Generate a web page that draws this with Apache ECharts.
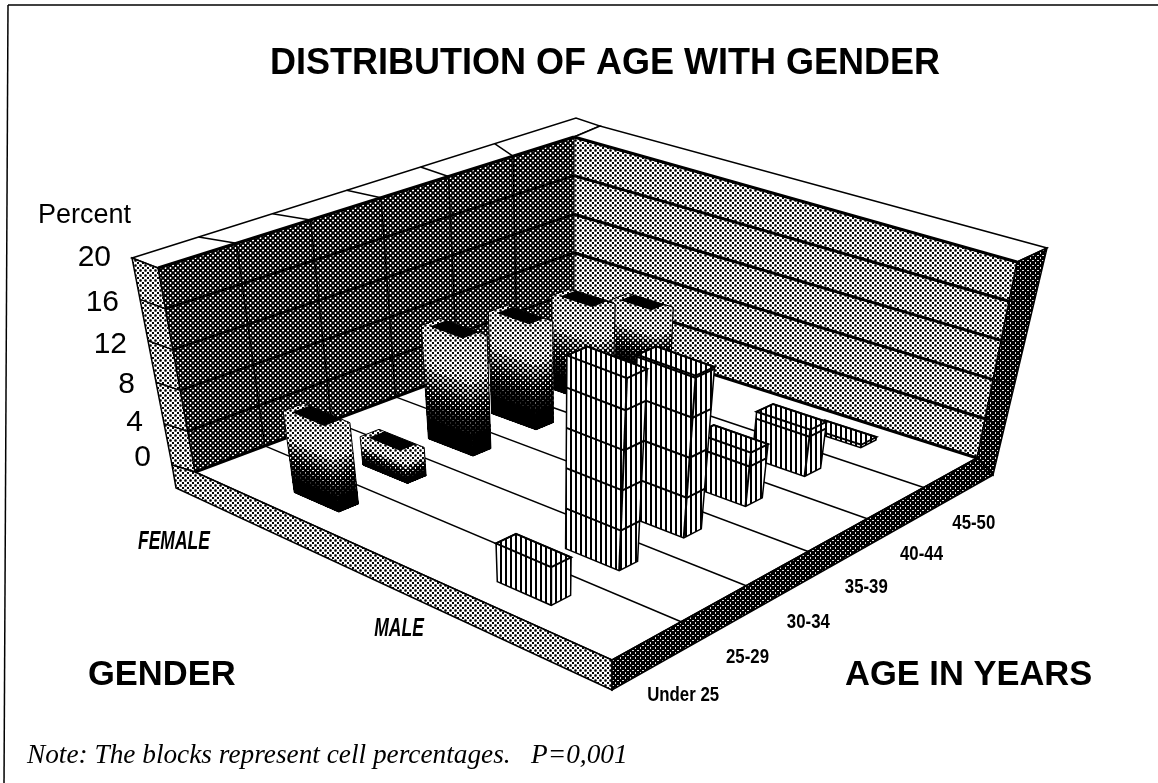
<!DOCTYPE html>
<html>
<head>
<meta charset="utf-8">
<title>Distribution of age with gender</title>
<script src="https://cdn.jsdelivr.net/npm/echarts@6/dist/echarts.min.js"></script>
<style>
html, body { margin: 0; padding: 0; background: #fff; }
#chart { width: 1158px; height: 783px; }
</style>
</head>
<body>
<div id="chart"></div>
<script>
var ageGroups = ['Under 25', '25-29', '30-34', '35-39', '40-44', '45-50'];
var genders = ['FEMALE', 'MALE'];
var femaleValues = [8, 2.8, 11.3, 10.2, 9.5, 6.8];
var maleValues = [3.8, 19.2, 16.2, 5.4, 4.7, 0.3];
var percentTicks = [0, 4, 8, 12, 16, 20];

// screen corners of the box: floor and the level of the top tick
var floorCorners = { left: [195, 472], back: [574, 330], right: [977, 458], front: [612, 660] };
var topCorners = { left: [158, 268], back: [574, 137], right: [1017, 262], front: [621, 462] };
var PCT_MAX = 20;

function homography(p00, p10, p11, p01) {
	var dx1 = p10[0] - p11[0], dx2 = p01[0] - p11[0], sx = p00[0] - p10[0] + p11[0] - p01[0];
	var dy1 = p10[1] - p11[1], dy2 = p01[1] - p11[1], sy = p00[1] - p10[1] + p11[1] - p01[1];
	var det = dx1 * dy2 - dx2 * dy1;
	var g = (sx * dy2 - dx2 * sy) / det;
	var h = (dx1 * sy - sx * dy1) / det;
	var a = p10[0] - p00[0] + g * p10[0], b = p01[0] - p00[0] + h * p01[0];
	var d = p10[1] - p00[1] + g * p10[1], e = p01[1] - p00[1] + h * p01[1];
	return function (u, v) {
		var w = g * u + h * v + 1;
		return [(a * u + b * v + p00[0]) / w, (d * u + e * v + p00[1]) / w];
	};
}
var floorMap = homography(floorCorners.left, floorCorners.back, floorCorners.right, floorCorners.front);
var topMap = homography(topCorners.left, topCorners.back, topCorners.right, topCorners.front);

// age position, gender position, percent -> scene point
function project(age, gender, pct) {
	// the age cells shrink a bit less than a pure homography gives
	var warped = age - 0.09 * Math.sin(Math.PI * age / ageGroups.length);
	var u = warped / ageGroups.length, v = gender / genders.length, t = pct / PCT_MAX;
	var p0 = floorMap(u, v), p1 = topMap(u, v);
	return [p0[0] + (p1[0] - p0[0]) * t, p0[1] + (p1[1] - p0[1]) * t];
}
function mix(p, q, t) {
	return [p[0] + (q[0] - p[0]) * t, p[1] + (q[1] - p[1]) * t];
}

// halftone tiles, the print has a 45 degree dot screen
var tileCache = {};
var SCREEN = 5;
function halftone(dark) {
	var key = dark.toFixed(2);
	if (tileCache[key]) return tileCache[key];
	var c = document.createElement('canvas');
	c.width = SCREEN; c.height = SCREEN;
	var ctx = c.getContext('2d');
	var img = ctx.createImageData(SCREEN, SCREEN);
	for (var y = 0; y < SCREEN; y++) {
		for (var x = 0; x < SCREEN; x++) {
			var s = 0.5 - 0.25 * (Math.cos(2 * Math.PI * (x + y) / SCREEN) + Math.cos(2 * Math.PI * (x - y) / SCREEN));
			var a = Math.max(0, Math.min(1, (dark - s) * 3.5 + 0.5));
			var i = (y * SCREEN + x) * 4, g = Math.round(255 * (1 - a));
			img.data[i] = img.data[i + 1] = img.data[i + 2] = g;
			img.data[i + 3] = 255;
		}
	}
	ctx.putImageData(img, 0, 0);
	tileCache[key] = { image: c, repeat: 'repeat' };
	return tileCache[key];
}
function stripes() {
	var c = document.createElement('canvas');
	c.width = 5; c.height = 2;
	var ctx = c.getContext('2d');
	ctx.fillStyle = '#fff';
	ctx.fillRect(0, 0, 5, 2);
	ctx.fillStyle = '#000';
	ctx.fillRect(0, 0, 2, 2);
	return { image: c, repeat: 'repeat' };
}
var LIGHT = 0.42, DARK = 0.70;
var stripeFill = stripes();

function poly(api, pts, fill, stroke, width) {
	return {
		type: 'polygon',
		shape: { points: pts.map(function (p) { return api.coord(p); }) },
		style: { fill: fill || 'none', stroke: stroke || 'none', lineWidth: width || 0 }
	};
}
function line(api, p, q, width) {
	var a = api.coord(p), b = api.coord(q);
	return {
		type: 'line',
		shape: { x1: a[0], y1: a[1], x2: b[0], y2: b[1] },
		style: { stroke: '#000', lineWidth: width }
	};
}
function label(api, p, text, font, align, squeeze) {
	var a = api.coord(p);
	return {
		type: 'text',
		x: a[0], y: a[1],
		scaleX: squeeze || 1,
		style: { text: text, font: font, fill: '#000', textAlign: align || 'center', textVerticalAlign: 'middle' }
	};
}

function renderBox(params, api) {
	var n = ageGroups.length, kids = [];
	var L1 = project(0, 0, PCT_MAX), L0 = project(0, 0, 0);
	var B1 = project(n, 0, PCT_MAX), B0 = project(n, 0, 0);
	var R1 = project(n, 2, PCT_MAX), R0 = project(n, 2, 0);
	var F0 = project(0, 2, 0);

	// thickness of walls and slab around the box
	var capLeft = [132, 258], capApex = [576, 118], capBack = [600, 126], capRight = [1047, 248];
	var sideLeftLow = [172, 465], slabLeftLow = [176, 488], slabFrontLow = [612, 690];
	var slabRightLow = [993, 475];

	// walls
	kids.push(poly(api, [L1, B1, B0, L0], halftone(DARK)));
	kids.push(poly(api, [B1, R1, R0, B0], halftone(LIGHT)));
	// floor
	kids.push(poly(api, [L0, B0, R0, F0], '#fff', '#000', 1.5));

	// caps
	kids.push(poly(api, [capLeft, capApex, capBack, B1, L1], '#fff', '#000', 1.5));
	kids.push(poly(api, [B1, capBack, capRight, R1], '#fff', '#000', 1.5));
	// side strips and slab
	kids.push(poly(api, [capLeft, L1, L0, sideLeftLow], halftone(LIGHT), '#000', 1.5));
	kids.push(poly(api, [R1, capRight, slabRightLow, R0], halftone(DARK + 0.1), '#000', 1.5));
	kids.push(poly(api, [sideLeftLow, L0, F0, slabFrontLow, slabLeftLow], halftone(LIGHT), '#000', 1.5));
	kids.push(poly(api, [F0, R0, slabRightLow, slabFrontLow], halftone(DARK + 0.1), '#000', 1.5));

	// percent levels on walls and side strip
	percentTicks.forEach(function (pct) {
		var t = pct / PCT_MAX;
		var outer = mix(sideLeftLow, capLeft, t);
		if (pct > 0 && pct < PCT_MAX) {
			kids.push(line(api, project(0, 0, pct), project(n, 0, pct), 2.5));
			kids.push(line(api, project(n, 0, pct), project(n, 2, pct), 3));
			kids.push(line(api, outer, project(0, 0, pct), 1.5));
			kids.push(line(api, mix(slabRightLow, capRight, t), project(n, 2, pct), 0.8));
		}
		kids.push(label(api, [outer[0] - 21, outer[1] - 7 * (1 - t) + 7.5 * Math.sin(Math.PI * t)],
			String(pct), '30px "Liberation Sans"', 'right'));
	});
	kids.push(line(api, L1, B1, 3));
	kids.push(line(api, B1, R1, 3));
	kids.push(line(api, L0, B0, 3));
	kids.push(line(api, B0, R0, 3));
	kids.push(line(api, B1, B0, 1));

	// age divisions: wall, cap, floor
	for (var i = 1; i < n; i++) {
		kids.push(line(api, project(i, 0, 0), project(i, 0, PCT_MAX), 1.5));
		kids.push(line(api, project(i, 0, PCT_MAX), mix(capLeft, capApex, (i - 0.1) / n), 1.5));
		kids.push(line(api, project(i, 0, 0), project(i, 2, 0), 1.5));
	}

	// category labels follow the front edges of the floor
	ageGroups.forEach(function (name, idx) {
		var p = project(idx + 0.5, 2, 0);
		kids.push(label(api, [p[0] + 36 - 2.6 * idx, p[1] + 55 - 0.8 * idx], name,
			'bold 21px "Liberation Sans"', 'center', 0.8));
	});
	genders.forEach(function (name, idx) {
		var p = project(0, idx + 0.5, 0);
		kids.push(label(api, [p[0] - 111 + 18 * idx, p[1] + 30 - 7 * idx], name,
			'italic bold 25px "Liberation Sans"', 'center', 0.7));
	});

	// frame of the page, top and left side only
	kids.push(line(api, [8, 5], [1158, 5], 1.5));
	kids.push(line(api, [8, 5], [4, 783], 1.5));
	return { type: 'group', children: kids };
}

var HALF_AGE = 0.14, HALF_GENDER = 0.118;
// the blocks do not sit exactly mid cell
var SHIFT_AGE = 0.04, SHIFT_GENDER = 0.015;

function barCorners(age, gender, pct) {
	var a0 = age + 0.5 + SHIFT_AGE - HALF_AGE, a1 = age + 0.5 + SHIFT_AGE + HALF_AGE;
	var b0 = gender + 0.5 + SHIFT_GENDER - HALF_GENDER, b1 = gender + 0.5 + SHIFT_GENDER + HALF_GENDER;
	return {
		back: project(a1, b0, pct), left: project(a0, b0, pct),
		front: project(a0, b1, pct), right: project(a1, b1, pct)
	};
}

function renderFemale(params, api) {
	var age = api.value(0), pct = api.value(1), gender = 0;
	var top = barCorners(age, gender, pct), base = barCorners(age, gender, 0);
	var kids = [], steps = 16;
	// shaded from pale at the top to solid black on the floor
	for (var s = 0; s < steps; s++) {
		var z = pct * (1 - s / steps), t = s / steps;
		var d = t < 0.28 ? LIGHT : Math.min(1.1, LIGHT + (t - 0.28) * 1.25);
		var c = barCorners(age, gender, z);
		var fill = halftone(Math.round(d * 20) / 20);
		kids.push(poly(api, [c.left, c.front, base.front, base.left], fill));
		kids.push(poly(api, [c.front, c.right, base.right, base.front], fill));
	}
	kids.push(poly(api, [top.left, top.front, top.right, top.back], halftone(LIGHT)));
	// dark inside of the open top, a pale lip stays at the front
	var a0 = age + 0.5 + SHIFT_AGE - HALF_AGE * 0.7, a1 = age + 0.5 + SHIFT_AGE + HALF_AGE;
	var b0 = gender + 0.5 + SHIFT_GENDER - HALF_GENDER * 0.75, b1 = gender + 0.5 + SHIFT_GENDER + HALF_GENDER * 0.65;
	kids.push(poly(api, [project(a0, b0, pct), project(a0, b1, pct), project(a1, b1, pct), project(a1, b0, pct)], '#000'));
	kids.push(poly(api, [base.left, base.front, base.right, top.right, top.back, top.left], 'none', '#000', 1));
	return { type: 'group', children: kids };
}

function renderMale(params, api) {
	var age = api.value(0), pct = api.value(1), gender = 1;
	var top = barCorners(age, gender, pct), base = barCorners(age, gender, 0);
	var kids = [];
	kids.push(poly(api, [top.left, top.front, base.front, base.left], stripeFill));
	kids.push(poly(api, [top.front, top.right, base.right, base.front], stripeFill));
	kids.push(poly(api, [top.left, top.front, top.right, top.back], stripeFill, '#000', 2));
	percentTicks.forEach(function (level) {
		if (level > 0 && level < pct) {
			var c = barCorners(age, gender, level);
			kids.push(line(api, c.left, c.front, 2));
			kids.push(line(api, c.front, c.right, 2));
		}
	});
	kids.push(poly(api, [base.left, base.front, base.right, top.right, top.back, top.left], 'none', '#000', 1.5));
	kids.push(line(api, base.front, top.front, 2));
	return { type: 'group', children: kids };
}

// far bars first, the front ones cover them
function barData(values) {
	return values.map(function (v, i) { return [i, v]; }).reverse();
}

var mychart = echarts.init(document.getElementById('chart'), null, { renderer: 'canvas' });
mychart.setOption({
	animation: false,
	backgroundColor: '#fff',
	title: {
		text: 'DISTRIBUTION OF AGE WITH GENDER',
		left: 265,
		top: 41,
		textStyle: { fontFamily: 'Liberation Sans', fontWeight: 'bold', fontSize: 36, color: '#000' }
	},
	grid: { left: 0, right: 0, top: 0, bottom: 0 },
	xAxis: { type: 'value', min: 0, max: 1158, show: false },
	yAxis: { type: 'value', min: 0, max: 783, inverse: true, show: false },
	graphic: [
		{ type: 'text', x: 38, y: 216, style: { text: 'Percent', font: '27px "Liberation Sans"', fill: '#000', textVerticalAlign: 'middle' } },
		{ type: 'text', x: 88, y: 675, style: { text: 'GENDER', font: 'bold 34.5px "Liberation Sans"', fill: '#000', textVerticalAlign: 'middle' } },
		{ type: 'text', x: 845, y: 675, style: { text: 'AGE IN YEARS', font: 'bold 34.5px "Liberation Sans"', fill: '#000', textVerticalAlign: 'middle' } },
		{ type: 'text', x: 27, y: 756, style: { text: 'Note: The blocks represent cell percentages.   P=0,001', font: 'italic 27.3px "Liberation Serif"', fill: '#000', textVerticalAlign: 'middle' } }
	],
	series: [
		{ name: 'box', type: 'custom', silent: true, clip: false, renderItem: renderBox, data: [[0, 0]] },
		{ name: genders[0], type: 'custom', silent: true, clip: false, renderItem: renderFemale, data: barData(femaleValues) },
		{ name: genders[1], type: 'custom', silent: true, clip: false, renderItem: renderMale, data: barData(maleValues) }
	]
});
</script>
</body>
</html>
